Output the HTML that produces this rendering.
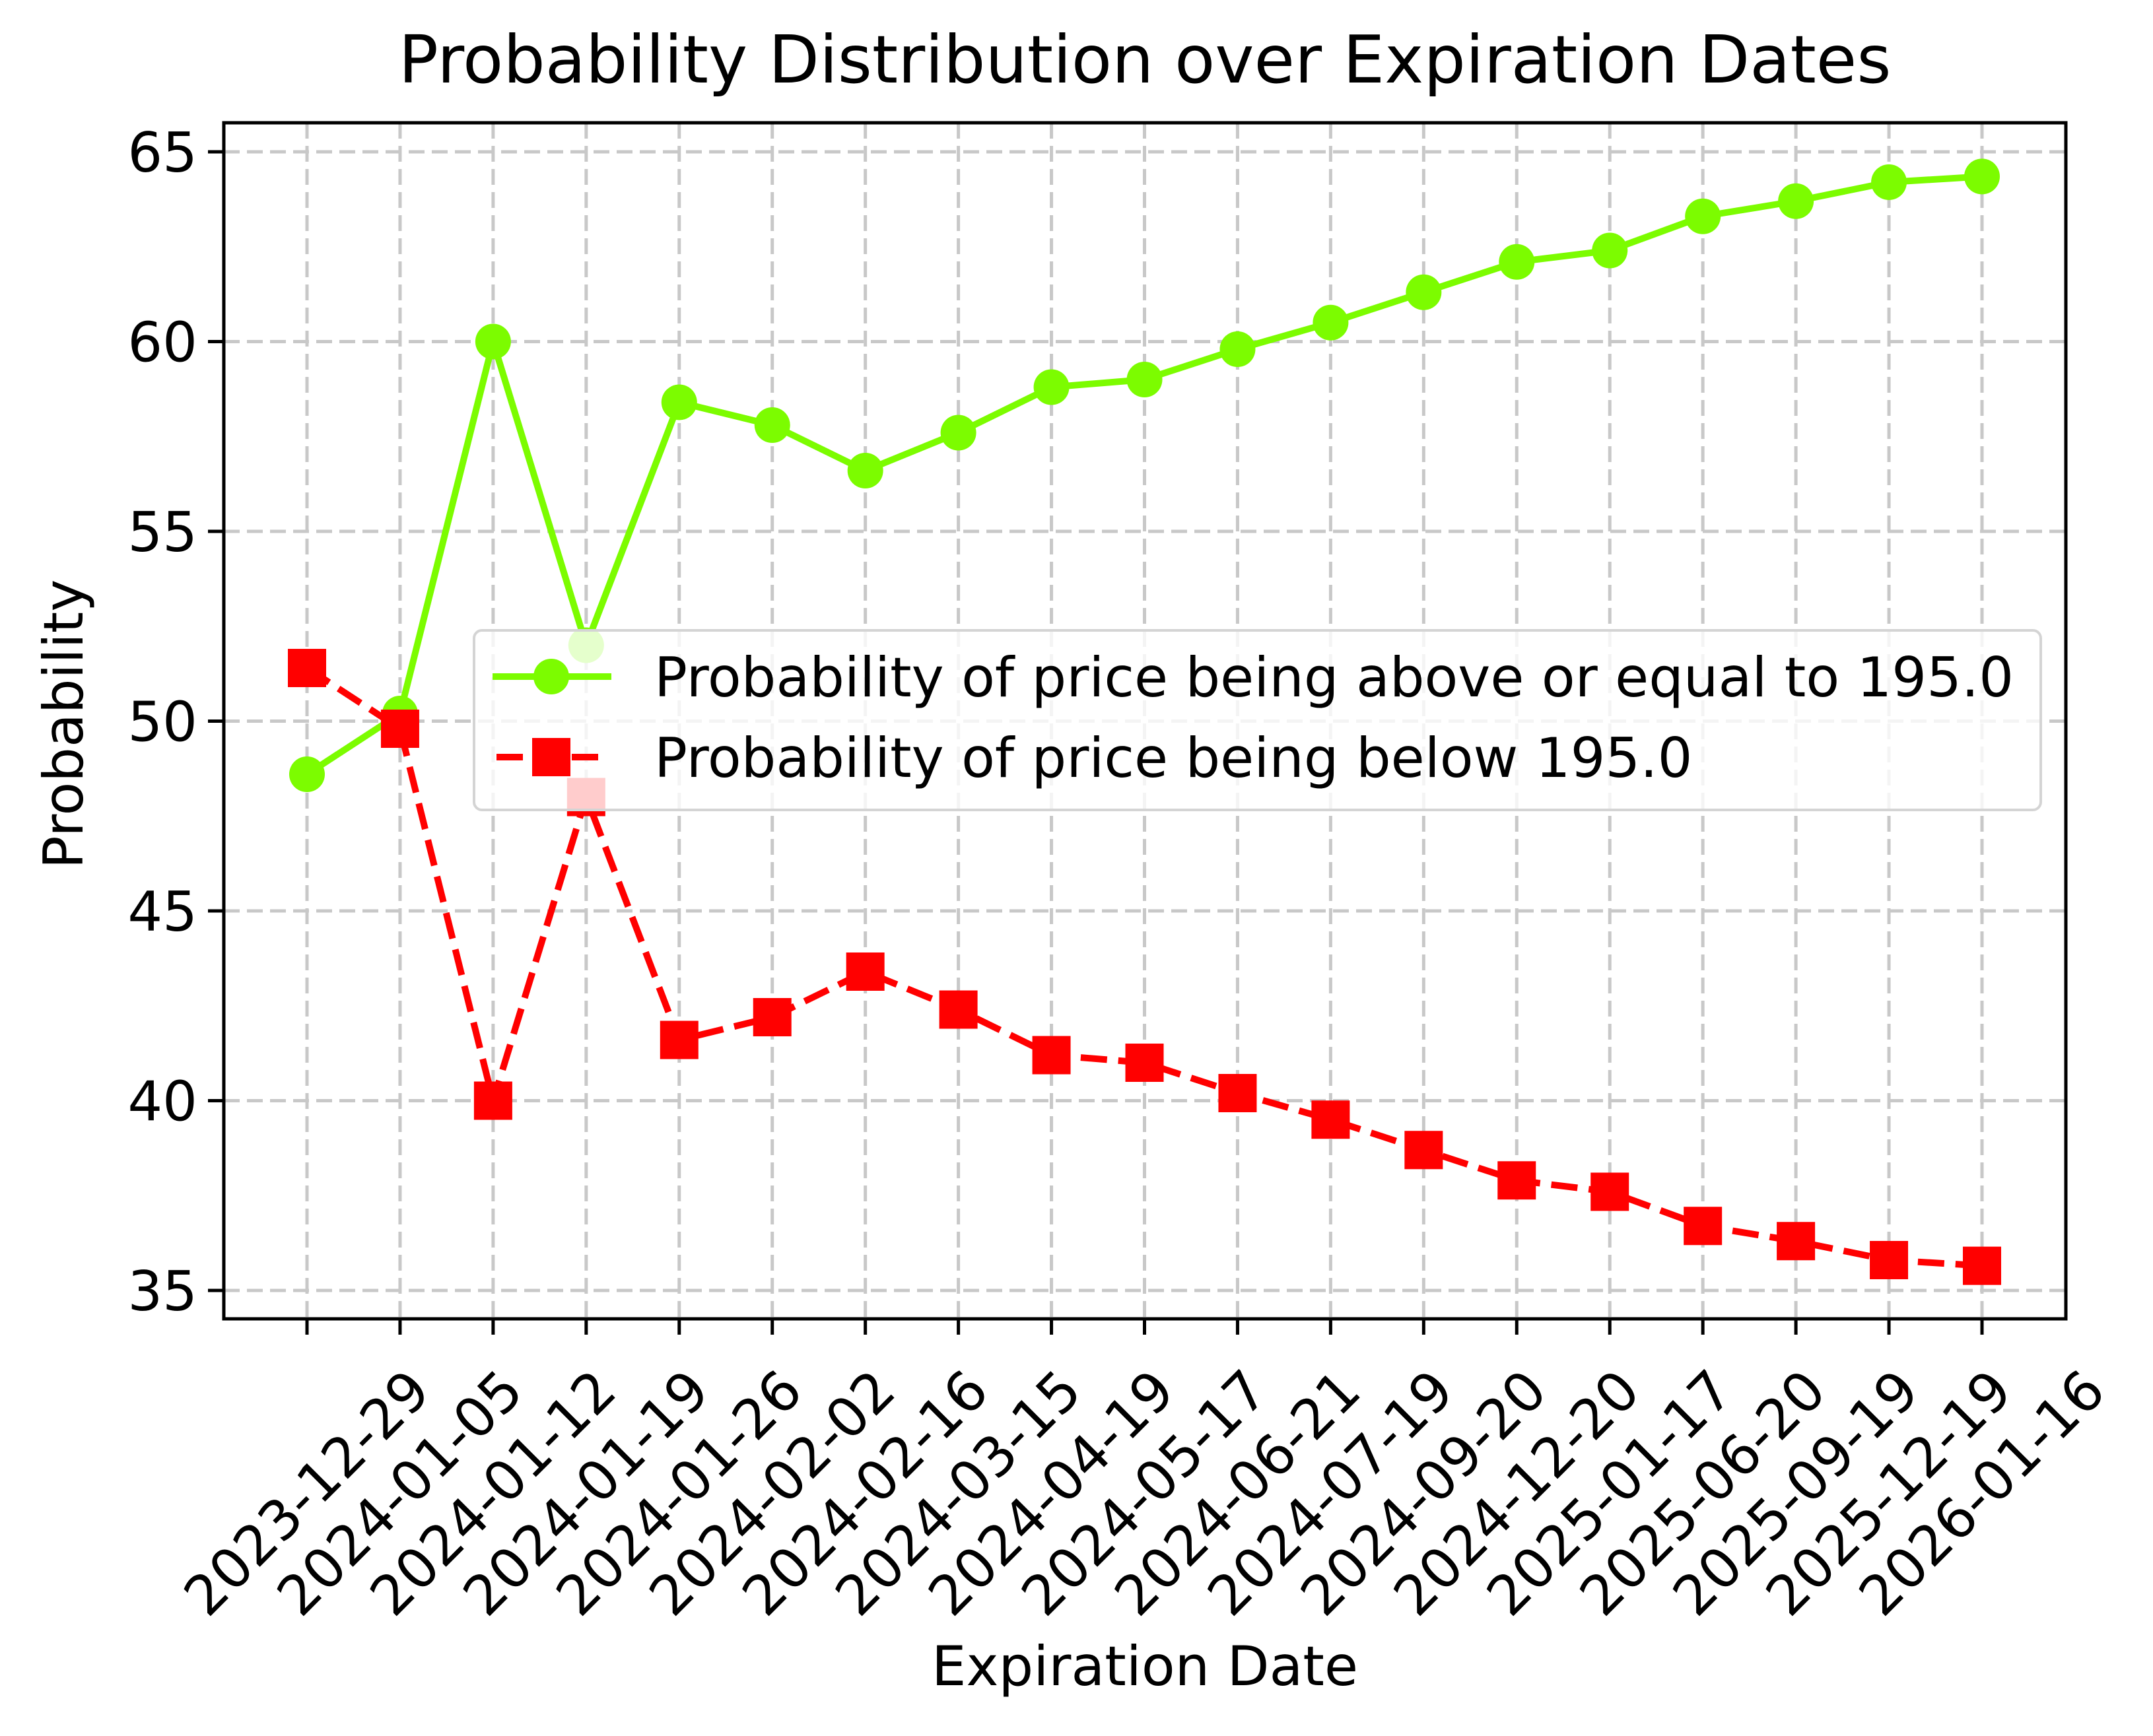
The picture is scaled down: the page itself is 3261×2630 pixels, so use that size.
<!DOCTYPE html>
<html><head><meta charset="utf-8"><style>
html,body{margin:0;padding:0;background:#fff;}
svg{display:block;font-family:"DejaVu Sans","Liberation Sans",sans-serif;}
</style></head><body>
<svg id="chart" width="3261" height="2630" viewBox="0 0 3261 2630" xmlns="http://www.w3.org/2000/svg">
<rect width="3261" height="2630" fill="#fff"/>
<text x="1734" y="125" font-size="100" text-anchor="middle">Probability Distribution over Expiration Dates</text>
<g id="grid"></g>
<g id="series"></g>
<g id="axes"></g>
<g id="legend"></g>
<text x="0" y="0" font-size="83" text-anchor="middle" transform="translate(125,1097) rotate(-90)">Probability</text>
<text x="1734" y="2553" font-size="83" text-anchor="middle">Expiration Date</text>
</svg>
<script>
const categories = ["2023-12-29","2024-01-05","2024-01-12","2024-01-19","2024-01-26","2024-02-02","2024-02-16","2024-03-15","2024-04-19","2024-05-17","2024-06-21","2024-07-19","2024-09-20","2024-12-20","2025-01-17","2025-06-20","2025-09-19","2025-12-19","2026-01-16"];
const aboveValues = [48.6,50.2,60.0,52.0,58.4,57.8,56.6,57.6,58.8,59.0,59.8,60.5,61.3,62.1,62.4,63.3,63.7,64.2,64.35];
const belowValues = [51.4,49.8,40.0,48.0,41.6,42.2,43.4,42.4,41.2,41.0,40.2,39.5,38.7,37.9,37.6,36.7,36.3,35.8,35.65];
const yTicks = [35,40,45,50,55,60,65];
const seriesLabels = ["Probability of price being above or equal to 195.0","Probability of price being below 195.0"];

const NS="http://www.w3.org/2000/svg";
const L=339,R=3129,T=186,B=1998;
const x0=465,x1=3002;
function xPos(i){return x0+(x1-x0)*i/(categories.length-1);}
function yPos(v){return 230+(65-v)*(1955-230)/30;}
function mk(tag,attrs,parent){const e=document.createElementNS(NS,tag);for(const k in attrs)e.setAttribute(k,attrs[k]);parent.appendChild(e);return e;}
const grid=document.getElementById('grid'),axes=document.getElementById('axes'),series=document.getElementById('series'),legend=document.getElementById('legend');

yTicks.forEach(v=>{
  const y=yPos(v);
  const g=mk('line',{x1:L,x2:R,y1:y,y2:y,stroke:'#c8c8c8','stroke-width':5,'stroke-dasharray':'24,11'},grid);
  
  
  const t=mk('line',{x1:L-24,x2:L,y1:y,y2:y,stroke:'#000','stroke-width':5},axes);
  
  
  const lb=mk('text',{x:L-40,y:y+30,'font-size':83,'text-anchor':'end'},axes);
  lb.textContent=v;
  
  
});
categories.forEach((c,i)=>{
  const x=xPos(i);
  const g=mk('line',{x1:x,x2:x,y1:T,y2:B,stroke:'#c8c8c8','stroke-width':5,'stroke-dasharray':'24,11'},grid);
  
  
  const t=mk('line',{x1:x,x2:x,y1:B,y2:B+24,stroke:'#000','stroke-width':5},axes);
  
  
  const lb=mk('text',{x:0,y:0,'font-size':83,'text-anchor':'middle','dominant-baseline':'central',transform:`translate(${x},${2262}) rotate(-45)`},axes);
  lb.textContent=c;
  
  
});
const frame=mk('rect',{x:L,y:T,width:R-L,height:B-T,fill:'none',stroke:'#000','stroke-width':5},axes);



const pa=mk('polyline',{points:aboveValues.map((v,i)=>xPos(i)+','+yPos(v)).join(' '),fill:'none',stroke:'#7cfc00','stroke-width':10,'stroke-linejoin':'round'},series);


aboveValues.forEach((v,i)=>{
  const c=mk('circle',{cx:xPos(i),cy:yPos(v),r:27,fill:'#7cfc00'},series);
  
  
});
const pb=mk('polyline',{points:belowValues.map((v,i)=>xPos(i)+','+yPos(v)).join(' '),fill:'none',stroke:'#ff0000','stroke-width':10,'stroke-dasharray':'40,17'},series);


belowValues.forEach((v,i)=>{
  const s=mk('rect',{x:xPos(i)-29,y:yPos(v)-29,width:58,height:58,fill:'#ff0000'},series);
  
  
});

const box=mk('rect',{x:718,y:955,width:2373,height:272,rx:12,fill:'#fff','fill-opacity':0.8,stroke:'#d4d4d4','stroke-width':4},legend);


const rows=[1025,1147];
const l1=mk('line',{x1:746,x2:926,y1:rows[0],y2:rows[0],stroke:'#7cfc00','stroke-width':10},legend);


const c1=mk('circle',{cx:835,cy:rows[0],r:27,fill:'#7cfc00'},legend);


const l2=mk('line',{x1:752,x2:920,y1:rows[1],y2:rows[1],stroke:'#ff0000','stroke-width':10,'stroke-dasharray':'40,17'},legend);


const s2=mk('rect',{x:806,y:rows[1]-29,width:58,height:58,fill:'#ff0000'},legend);


seriesLabels.forEach((t,i)=>{
  const e=mk('text',{x:991,y:rows[i]+30,'font-size':83},legend);
  e.textContent=t;
  
  
});
</script>
</body></html>
